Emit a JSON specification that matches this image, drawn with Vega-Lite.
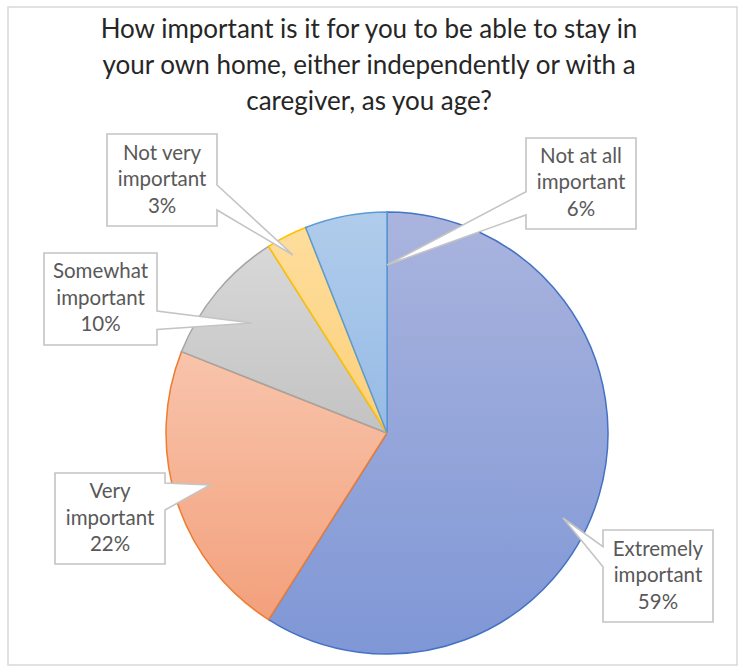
{
  "$schema": "https://vega.github.io/schema/vega-lite/v6.json",
  "width": 442,
  "height": 442,
  "autosize": {"type": "none"},
  "padding": {"left": 166, "top": 212, "right": 130, "bottom": 14},
  "background": "white",
  "config": {"view": {"stroke": null}},
  "title": {
    "text": ["How important is it for you to be able to stay in", "your own home, either independently or with a", "caregiver, as you age?"],
    "font": "Lato",
    "fontSize": 26,
    "fontWeight": "normal",
    "color": "#262626",
    "lineHeight": 36,
    "anchor": "middle",
    "dx": -18,
    "offset": -111
  },
  "data": {
    "values": [
      {"cat": "Extremely important", "value": 59, "rank": 1, "label": "Extremely\nimportant\n59%"},
      {"cat": "Very important", "value": 22, "rank": 2, "label": "Very\nimportant\n22%"},
      {"cat": "Somewhat important", "value": 10, "rank": 3, "label": "Somewhat\nimportant\n10%"},
      {"cat": "Not very important", "value": 3, "rank": 4, "label": "Not very\nimportant\n3%"},
      {"cat": "Not at all important", "value": 6, "rank": 5, "label": "Not at all\nimportant\n6%"}
    ]
  },
  "layer": [
    {
      "data": {"values": [{"frame": "chart area"}]},
      "mark": {"type": "point", "filled": false, "stroke": "#d9d9d9", "strokeWidth": 1.5, "opacity": 1, "size": 4, "shape": "M-379,-426H350V232H-379Z"},
      "encoding": {}
    },
    {
      "mark": {"type": "arc", "outerRadius": 221, "strokeWidth": 1.5},
      "encoding": {
        "theta": {"field": "value", "type": "quantitative", "stack": true},
        "order": {"field": "rank", "type": "quantitative"},
        "fill": {
          "condition": [
            {"test": "datum.cat === 'Extremely important'", "value": {"gradient": "linear", "x1": 0, "y1": 0, "x2": 0, "y2": 1, "stops": [{"offset": 0, "color": "#aab4de"}, {"offset": 1, "color": "#7f97d6"}]}},
            {"test": "datum.cat === 'Very important'", "value": {"gradient": "linear", "x1": 0, "y1": 0, "x2": 0, "y2": 1, "stops": [{"offset": 0, "color": "#f8c4ab"}, {"offset": 1, "color": "#f3a07c"}]}},
            {"test": "datum.cat === 'Somewhat important'", "value": {"gradient": "linear", "x1": 0, "y1": 0, "x2": 0, "y2": 1, "stops": [{"offset": 0, "color": "#d8d8d8"}, {"offset": 1, "color": "#c3c3c3"}]}},
            {"test": "datum.cat === 'Not very important'", "value": {"gradient": "linear", "x1": 0, "y1": 0, "x2": 0, "y2": 1, "stops": [{"offset": 0, "color": "#fedd9c"}, {"offset": 1, "color": "#fcd07a"}]}}
          ],
          "value": {"gradient": "linear", "x1": 0, "y1": 0, "x2": 0, "y2": 1, "stops": [{"offset": 0, "color": "#b0cceb"}, {"offset": 1, "color": "#97bbe6"}]}
        },
        "stroke": {
          "field": "cat",
          "type": "nominal",
          "scale": {
            "domain": ["Extremely important", "Very important", "Somewhat important", "Not very important", "Not at all important"],
            "range": ["#4472c4", "#ed7d31", "#a5a5a5", "#ffc000", "#5b9bd5"]
          },
          "legend": null
        }
      }
    },
    {
      "mark": {"type": "point", "filled": true, "fill": "white", "stroke": "#c4c4c4", "strokeWidth": 1.6, "opacity": 1, "size": 4},
      "encoding": {
        "shape": {
          "field": "cat",
          "type": "nominal",
          "scale": {
            "domain": ["Extremely important", "Very important", "Somewhat important", "Not very important", "Not at all important"],
            "range": [
              "M216,97H326V189H216V133.7L176,85L216,113.7Z",
              "M-332,40H-222V50L-177,52L-222,77V131H-332Z",
              "M-343,-180H-230V-122L-135,-110L-230,-103.5V-88H-343Z",
              "M-280,-299H-170V-248L-94,-178L-170,-223V-207H-280Z",
              "M139,-295H249V-204H139V-218L0,-168L139,-241.3Z"
            ]
          },
          "legend": null
        }
      }
    },
    {
      "mark": {
        "type": "text",
        "radius": 190,
        "font": "Lato",
        "fontSize": 20.5,
        "color": "#595959",
        "lineBreak": "\n",
        "lineHeight": 26.5,
        "align": "center",
        "baseline": "middle",
        "dx": {"expr": "datum.cat === 'Extremely important' ? 88.5 : datum.cat === 'Very important' ? -96.3 : datum.cat === 'Somewhat important' ? -140.1 : datum.cat === 'Not very important' ? -138.7 : 229.6"},
        "dy": {"expr": "datum.cat === 'Extremely important' ? 63.5 : datum.cat === 'Very important' ? 0.3 : datum.cat === 'Somewhat important' ? -39.4 : datum.cat === 'Not very important' ? -110.2 : -89.4"}
      },
      "encoding": {
        "theta": {"field": "value", "type": "quantitative", "stack": true},
        "order": {"field": "rank", "type": "quantitative"},
        "text": {"field": "label", "type": "nominal"}
      }
    }
  ]
}
